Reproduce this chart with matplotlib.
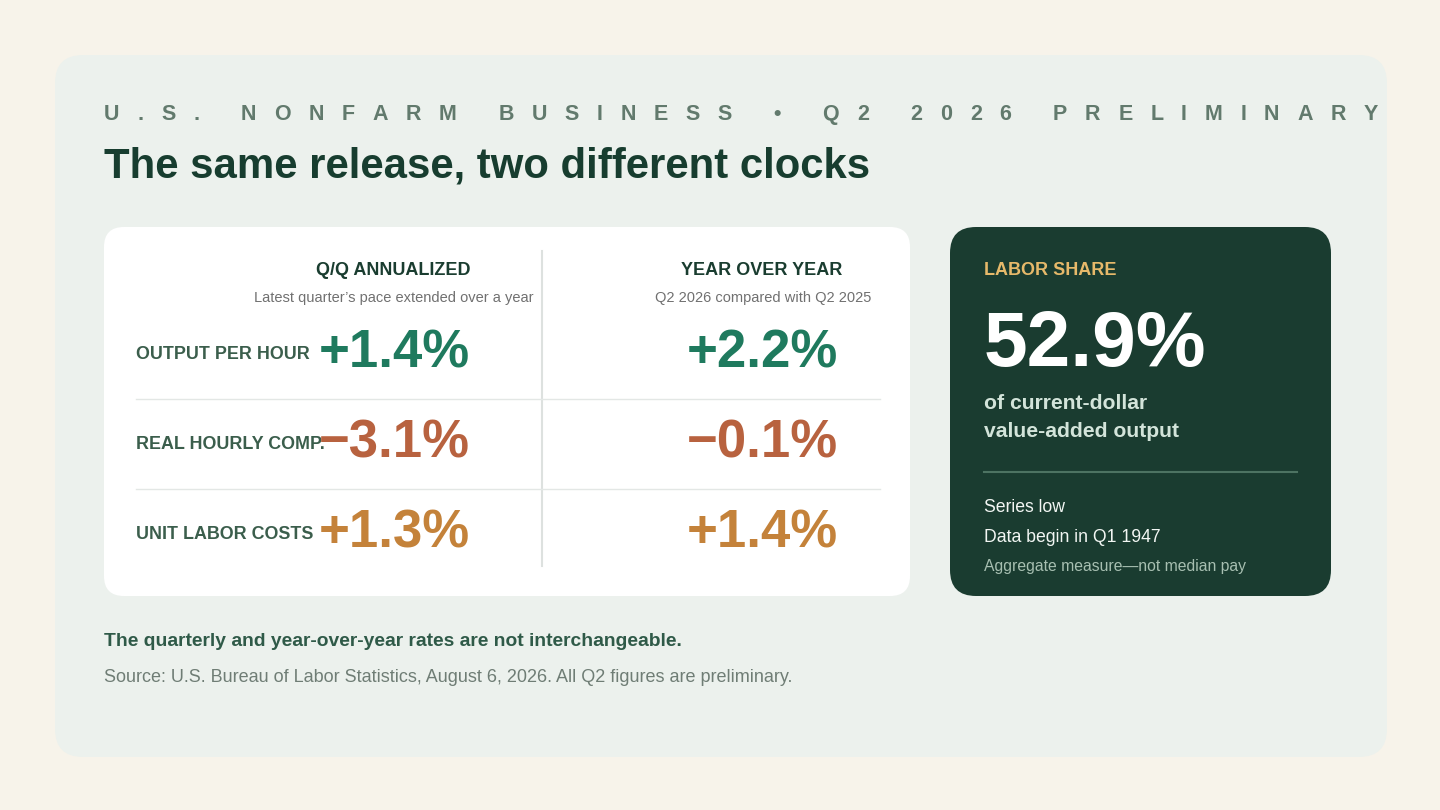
import matplotlib
matplotlib.use("Agg")
import matplotlib.pyplot as plt
from matplotlib.patches import FancyBboxPatch
from matplotlib.font_manager import FontProperties

plt.rcParams['font.family'] = ['Liberation Sans', 'DejaVu Sans']

# data
kicker = "U.S. NONFARM BUSINESS \u2022 Q2 2026 PRELIMINARY"
title = "The same release, two different clocks"
metrics = ["OUTPUT PER HOUR", "REAL HOURLY COMP.", "UNIT LABOR COSTS"]
qq_annualized = [1.4, -3.1, 1.3]
year_over_year = [2.2, -0.1, 1.4]
col_heads = ["Q/Q ANNUALIZED", "YEAR OVER YEAR"]
col_notes = ["Latest quarter\u2019s pace extended over a year", "Q2 2026 compared with Q2 2025"]
labor_share = 52.9
share_note = ["of current-dollar", "value-added output"]
share_facts = ["Series low", "Data begin in Q1 1947"]
share_caveat = "Aggregate measure\u2014not median pay"
takeaway = "The quarterly and year-over-year rates are not interchangeable."
source = "Source: U.S. Bureau of Labor Statistics, August 6, 2026. All Q2 figures are preliminary."

# colours
bg = "#f7f3ea"
panel = "#ecf1ed"
dark = "#1a3c30"
row_colors = ["#1f7a5e", "#b8623f", "#c4823a"]


def fmt(v):
    sign = "+" if v >= 0 else "\u2212"
    return f"{sign}{abs(v):.1f}%"


fig = plt.figure(figsize=(14.4, 8.1), dpi=100, facecolor=bg)
ax = fig.add_axes([0, 0, 1, 1])
ax.set_xlim(0, 1440)
ax.set_ylim(810, 0)
ax.axis("off")


def card(x0, y0, x1, y1, r, color):
    ax.add_patch(FancyBboxPatch((x0, y0), x1 - x0, y1 - y0,
                                boxstyle=f"round,pad=0,rounding_size={r}",
                                fc=color, ec="none", zorder=1))


card(55, 55, 1387, 757, 28, panel)
card(104, 227, 910, 596, 20, "white")
card(950, 227, 1331, 596, 26, dark)

# kicker with wide letter spacing
fig.canvas.draw()
renderer = fig.canvas.get_renderer()
kprop = FontProperties(family=['Liberation Sans', 'DejaVu Sans'], weight='bold', size=15.5)
widths = [renderer.get_text_width_height_descent(c, kprop, ismath=False)[0] for c in kicker]
span = 1378 - 104
gap = (span - sum(widths)) / (len(kicker) - 1)
x = 104
for c, w in zip(kicker, widths):
    ax.text(x, 120, c, fontproperties=kprop, color="#627a6d", va="baseline", ha="left")
    x += w + gap

ax.text(104, 178, title, fontsize=30.2, fontweight="bold", color="#173d2f", va="baseline")

# table
head_x = [471, 842]
note_x = [534, 871]
val_x = [470, 838]
for i in range(2):
    ax.text(head_x[i], 275, col_heads[i], fontsize=13, fontweight="bold",
            color="#1a3d30", ha="right", va="baseline")
    ax.text(note_x[i], 302, col_notes[i], fontsize=10.5, color="#707070",
            ha="right", va="baseline")

ax.plot([542, 542], [251, 566], color="#dde1df", lw=1.5, zorder=2)
for yl in [399, 489]:
    ax.plot([136, 880], [yl, yl], color="#e3e7e5", lw=1, zorder=2)

for i, name in enumerate(metrics):
    base = 359 + 90 * i
    ax.text(136, base, name, fontsize=12.9, fontweight="bold", color="#3b5e4c",
            va="baseline", zorder=3)
    ax.text(val_x[0], base + 9, fmt(qq_annualized[i]), fontsize=38, fontweight="bold",
            color=row_colors[i], ha="right", va="baseline", zorder=4)
    ax.text(val_x[1], base + 9, fmt(year_over_year[i]), fontsize=38, fontweight="bold",
            color=row_colors[i], ha="right", va="baseline", zorder=4)

# labor share card
ax.text(984, 275, "LABOR SHARE", fontsize=13, fontweight="bold", color="#e6b96a", va="baseline")
ax.text(984, 366, f"{labor_share:.1f}%", fontsize=56.5, fontweight="bold", color="white", va="baseline")
ax.text(984, 409, share_note[0], fontsize=15.2, fontweight="bold", color="#d3e4da", va="baseline")
ax.text(984, 437, share_note[1], fontsize=15.2, fontweight="bold", color="#d3e4da", va="baseline")
ax.plot([984, 1297], [472, 472], color="#4d7362", lw=1.5, zorder=2)
ax.text(984, 512, share_facts[0], fontsize=12.7, color="#f2f6f3", va="baseline")
ax.text(984, 542, share_facts[1], fontsize=12.7, color="#f2f6f3", va="baseline")
ax.text(984, 571, share_caveat, fontsize=11.3, color="#a7bfb1", va="baseline")

# footer
ax.text(104, 646, takeaway, fontsize=13.9, fontweight="bold", color="#2f5a48", va="baseline")
ax.text(104, 682, source, fontsize=13, color="#6f7d75", va="baseline")

fig.savefig("out.png", dpi=100, facecolor=bg)
